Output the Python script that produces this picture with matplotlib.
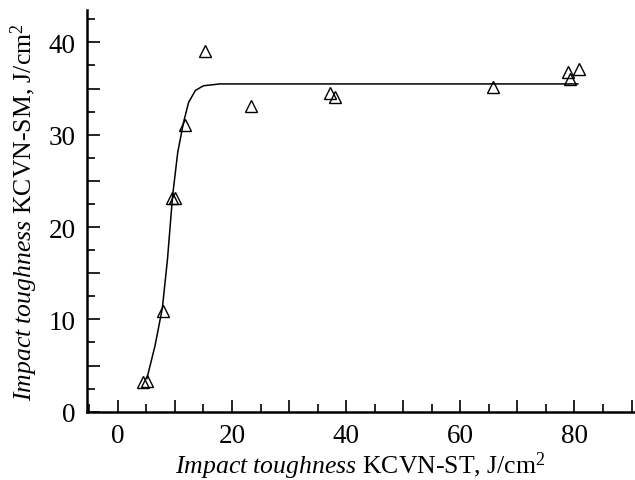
import numpy as np
import matplotlib.pyplot as plt
from matplotlib.ticker import MultipleLocator, FuncFormatter

plt.rcParams['font.family'] = ['Liberation Serif', 'DejaVu Serif']
plt.rcParams['mathtext.fontset'] = 'custom'
plt.rcParams['mathtext.rm'] = 'Liberation Serif'
plt.rcParams['mathtext.it'] = 'Liberation Serif:italic'

# measured points
kcvn_st = [4.4, 5.1, 7.9, 9.5, 10.1, 11.8, 15.3, 23.4, 37.1, 38.0, 65.7, 78.8, 79.2, 80.8]
kcvn_sm = [3.2, 3.3, 10.9, 23.1, 23.1, 31.1, 39.1, 33.1, 34.5, 34.1, 35.2, 36.8, 36.0, 37.1]

# fitted curve
fit_x = [5.1, 6.5, 7.8, 8.7, 9.6, 10.5, 11.5, 12.4, 13.6, 15.0, 17.9, 25.0, 40.0, 60.0, 80.6]
fit_y = [3.6, 7.1, 11.2, 16.5, 23.4, 28.1, 31.3, 33.5, 34.8, 35.3, 35.5, 35.5, 35.5, 35.5, 35.5]

fig = plt.figure(figsize=(6.35, 4.81), dpi=100)
ax = fig.add_axes([0.137, 0.142, 0.862, 0.835])

ax.plot(fit_x, fit_y, color='black', lw=1.1)
ax.plot(kcvn_st, kcvn_sm, linestyle='none', marker='^', markersize=9,
        markerfacecolor='none', markeredgecolor='black', markeredgewidth=1.0)

ax.set_xlim(-5.4, 90.5)
ax.set_ylim(0, 43.5)
# long ticks every 10 (x) / 5 (y), labels only every 20 / 10
ax.xaxis.set_major_locator(MultipleLocator(10))
ax.xaxis.set_minor_locator(MultipleLocator(5))
ax.yaxis.set_major_locator(MultipleLocator(5))
ax.yaxis.set_minor_locator(MultipleLocator(2.5))
ax.xaxis.set_major_formatter(FuncFormatter(lambda v, p: f'{v:.0f}' if round(v) % 20 == 0 else ''))
ax.yaxis.set_major_formatter(FuncFormatter(lambda v, p: f'{v:.0f}' if round(v) % 10 == 0 else ''))

ax.spines['top'].set_visible(False)
ax.spines['right'].set_visible(False)
for s in ['left', 'bottom']:
    ax.spines[s].set_linewidth(1.8)

ax.tick_params(which='major', direction='in', length=9, width=1.2, labelsize=19.5, pad=8)
ax.tick_params(which='minor', direction='in', length=5.5, width=1.2)

ax.set_xlabel(r'$\it{Impact\ toughness}$ KCVN-ST, J/cm$^2$', fontsize=18.5, labelpad=1)
ax.set_ylabel(r'$\it{Impact\ toughness}$ KCVN-SM, J/cm$^2$', fontsize=18.5, labelpad=6)

fig.savefig('out.png', dpi=100)
